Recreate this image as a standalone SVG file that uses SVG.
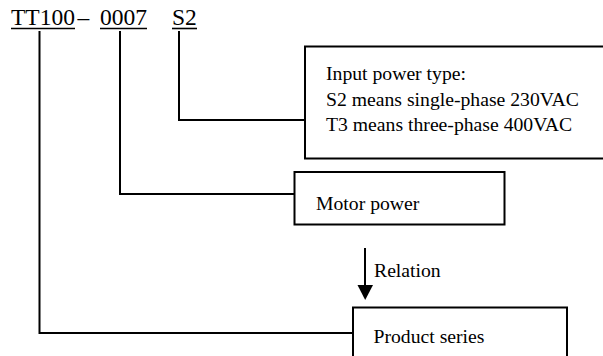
<svg xmlns="http://www.w3.org/2000/svg" width="603" height="356" viewBox="0 0 603 356">
<style>
text{font-family:"Liberation Serif","Times New Roman",serif;fill:#000}
.t{font-size:23.5px}
.b{font-size:19.7px}
.box{fill:#fff;stroke:#000;stroke-width:2}
.c{fill:none;stroke:#000;stroke-width:2}
.u{stroke:#000;stroke-width:1.6}
</style>
<rect width="603" height="356" fill="#fff"/>
<g id="code">
<text class="t" x="11" y="25">TT100</text>
<text class="t" x="77.5" y="25">–</text>
<text class="t" x="100" y="25">0007</text>
<text class="t" x="172" y="25">S2</text>
<line class="u" x1="11" y1="28.5" x2="75" y2="28.5"/>
<line class="u" x1="100" y1="28.5" x2="147" y2="28.5"/>
<line class="u" x1="172" y1="28.5" x2="197" y2="28.5"/>
</g>
<g id="connectors">
<polyline class="c" points="179,31 179,120 305,120"/>
<polyline class="c" points="120,31 120,194 295,194"/>
<polyline class="c" points="39.5,31 39.5,333 354,333"/>
<line class="c" x1="365" y1="248" x2="365" y2="287"/>
<polygon points="357.5,285 373,285 365.2,300" fill="#000"/>
<text class="b" x="374" y="277">Relation</text>
</g>
<g id="input-power">
<rect class="box" x="305" y="46.5" width="310" height="112"/>
<text class="b" x="326" y="79.5">Input power type:</text>
<text class="b" x="326" y="105.5">S2 means single-phase 230VAC</text>
<text class="b" x="326" y="131">T3 means three-phase 400VAC</text>
</g>
<g id="motor-power">
<rect class="box" x="294.5" y="172" width="210" height="52.5"/>
<text class="b" x="316" y="210">Motor power</text>
</g>
<g id="product-series">
<rect class="box" x="353" y="307.5" width="214" height="60"/>
<text class="b" x="373.5" y="343">Product series</text>
</g>
</svg>
